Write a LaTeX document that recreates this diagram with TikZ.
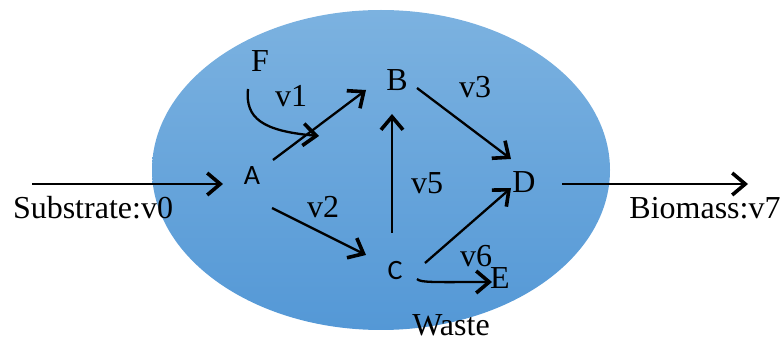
\documentclass[tikz,border=0pt]{standalone}
\usepackage{fontspec}
\setmainfont{Liberation Serif}
\newfontfamily\calibri{Carlito}
\usetikzlibrary{arrows.meta}
\begin{document}
\begin{tikzpicture}[x=1pt,y=-1pt,
  lbl/.style={inner sep=0pt,font=\fontsize{32}{32}\selectfont},
  sml/.style={inner sep=0pt,font=\fontsize{32}{32}\selectfont},
  sanslbl/.style={inner sep=0pt,font=\calibri\fontsize{28}{28}\selectfont},
  flow/.style={line width=2.3pt,-{Straight Barb[length=13pt,width=22pt,line width=3.6pt]}}]
\useasboundingbox (0,0) rectangle (780,339);
\shade[top color={rgb,255:red,124;green,178;blue,224},bottom color={rgb,255:red,84;green,152;blue,214}] (381,170) ellipse [x radius=229,y radius=160];
% labels
\node[sanslbl] (A) at (252,176) {A};
\node[sanslbl] (C) at (395,271) {C};
\node[sml] (F) at (260,61) {F};
\node[sml] (B) at (397,80) {B};
\node[sml] (D) at (524,182) {D};
\node[sml] (E) at (500,278) {E};
\node[sml] (v1) at (291,96) {v1};
\node[sml] (v2) at (323,207) {v2};
\node[sml] (v3) at (475,87) {v3};
\node[sml] (v5) at (427,183) {v5};
\node[sml] (v6) at (476,256) {v6};
\node[sml,anchor=base] (waste) at (451,336) {Waste};
\node[lbl] (sub) at (93,208) {Substrate:v0};
\node[lbl] (bio) at (705,208) {Biomass:v7};
% endpoints
\coordinate (s0) at (32,184);  \coordinate (s1) at (223,184);
\coordinate (b0) at (562,184); \coordinate (b1) at (748,184);
\coordinate (ab0) at (273,160); \coordinate (ab1) at (366,90);
\coordinate (f0) at (248,89);  \coordinate (f1) at (319,136);
\coordinate (bd0) at (417,88); \coordinate (bd1) at (511,159);
\coordinate (cb0) at (392,233); \coordinate (cb1) at (392,114);
\coordinate (ac0) at (272,208); \coordinate (ac1) at (366,255);
\coordinate (cd0) at (425,263); \coordinate (cd1) at (511,188);
\coordinate (ce0) at (417,279); \coordinate (ce1) at (492,282);
% connectors
\draw[flow] (s0) -- (s1);
\draw[flow] (b0) -- (b1);
\draw[flow] (ab0) -- (ab1);
\draw[flow] (f0) .. controls (245,118) and (262,131) .. (f1);
\draw[flow] (bd0) -- (bd1);
\draw[flow] (cb0) -- (cb1);
\draw[flow] (ac0) -- (ac1);
\draw[flow] (cd0) -- (cd1);
\draw[flow] (ce0) .. controls (420,283) and (440,282) .. (ce1);
\end{tikzpicture}
\end{document}
